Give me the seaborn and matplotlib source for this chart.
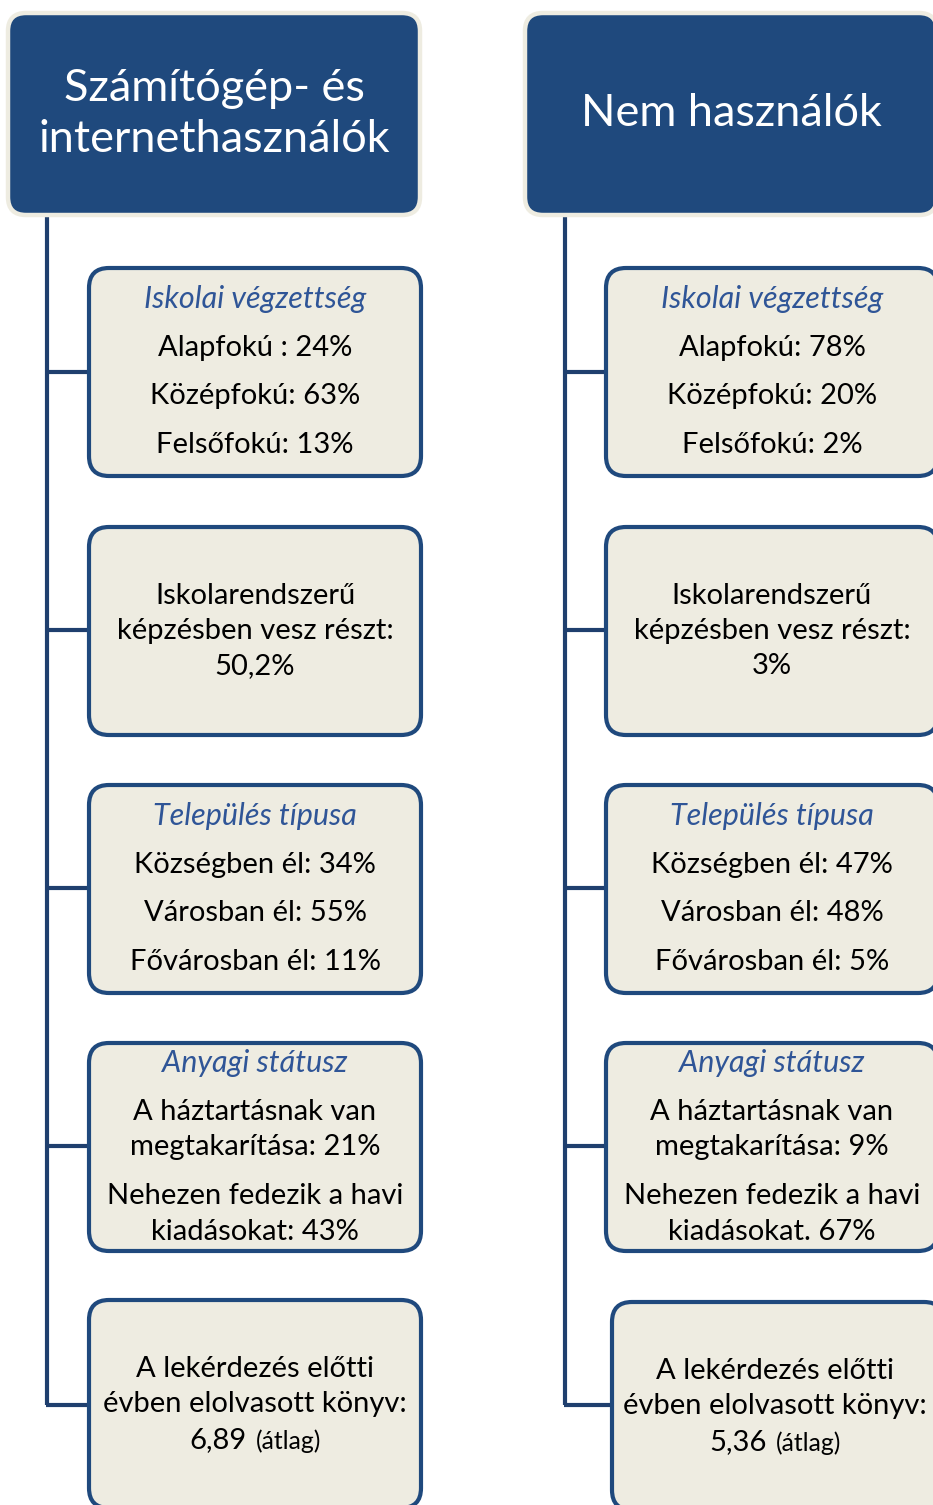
import matplotlib
matplotlib.use('Agg')
import matplotlib.pyplot as plt
import seaborn as sns
from matplotlib.patches import FancyBboxPatch

sns.set_theme(style='white')
plt.rcParams['font.family'] = ['Lato', 'DejaVu Sans']

# --- content ---
groups = ['Számítógép- és\ninternethasználók', 'Nem használók']

titles_left = ['Iskolai végzettség', None, 'Település típusa', 'Anyagi státusz', None]
titles_right = ['Iskolai végzettség', None, 'Település típusa', 'Anyagi státusz', None]

lines_left = [
    ['Alapfokú : 24%', 'Középfokú: 63%', 'Felsőfokú: 13%'],
    ['Iskolarendszerű', 'képzésben vesz részt:', '50,2%'],
    ['Községben él: 34%', 'Városban él: 55%', 'Fővárosban él: 11%'],
    ['A háztartásnak van', 'megtakarítása: 21%', 'Nehezen fedezik a havi', 'kiadásokat: 43%'],
    ['A lekérdezés előtti', 'évben elolvasott könyv:', '6,89'],
]
lines_right = [
    ['Alapfokú: 78%', 'Középfokú: 20%', 'Felsőfokú: 2%'],
    ['Iskolarendszerű', 'képzésben vesz részt:', '3%'],
    ['Községben él: 47%', 'Városban él: 48%', 'Fővárosban él: 5%'],
    ['A háztartásnak van', 'megtakarítása: 9%', 'Nehezen fedezik a havi', 'kiadásokat. 67%'],
    ['A lekérdezés előtti', 'évben elolvasott könyv:', '5,36'],
]
suffix = '(átlag)'

# --- layout (pixels) ---
NAVY = '#1F497D'
LINE = '#1F3F6E'
BEIGE = '#EEECE1'
TITLE_BLUE = '#2F5597'

fig = plt.figure(figsize=(9.33, 15.05), dpi=100)
ax = fig.add_axes([0, 0, 1, 1])
ax.set_xlim(0, 933)
ax.set_ylim(1505, 0)
ax.axis('off')

col_x = [8, 525]          # header left edges
trunk_x = [47, 565]       # vertical line x
box_x = [[89] * 5, [606] * 4 + [612]]
box_w = 332
box_tops = [[268, 527, 785, 1043, 1300], [268, 527, 785, 1043, 1302]]
box_h = 208
conn_y = [372, 630, 888, 1146, 1405]
title_y = [299, None, 816, 1063, None]
line_ys = [
    [348, 396, 445],
    [596, 631, 666],
    [865, 913, 962],
    [1112, 1147, 1196, 1232],
    [1369, 1404, 1440],
]
line_ys_right = line_ys[:4] + [[1371, 1406, 1442]]

body_fs = 21
title_fs = 22
header_fs = 32.5

pending = []

for c in range(2):
    # header
    hx = col_x[c]
    hdr = FancyBboxPatch((hx, 13), 412, 202,
                         boxstyle='round,pad=0,rounding_size=18',
                         facecolor=NAVY, edgecolor=BEIGE, linewidth=3.2, zorder=3)
    ax.add_patch(hdr)
    ax.text(hx + 206, 114, groups[c], ha='center', va='center', color='white',
            fontsize=header_fs, linespacing=1.3, zorder=4)

    # trunk line
    tx = trunk_x[c]
    ax.plot([tx, tx], [215, conn_y[-1]], color=LINE, lw=3.0, solid_capstyle='butt', zorder=1)

    titles = titles_left if c == 0 else titles_right
    lines = lines_left if c == 0 else lines_right
    ys = line_ys if c == 0 else line_ys_right

    for i in range(5):
        bx = box_x[c][i]
        by = box_tops[c][i]
        ax.plot([tx - 1.5, bx], [conn_y[i], conn_y[i]],
                color=LINE, lw=3.0, solid_capstyle='butt', zorder=1)
        box = FancyBboxPatch((bx, by), box_w, box_h,
                             boxstyle='round,pad=0,rounding_size=20',
                             facecolor=BEIGE, edgecolor=NAVY, linewidth=3.0, zorder=2)
        ax.add_patch(box)
        cx = 255 if c == 0 else 772 + (3 if i == 4 else 0)
        if titles[i]:
            ax.text(cx, title_y[i], titles[i], ha='center', va='center', color=TITLE_BLUE,
                    fontsize=title_fs, style='italic', zorder=4)
        for j, (txt, y) in enumerate(zip(lines[i], ys[i])):
            if i == 4 and j == 2:
                t1 = ax.text(cx, y, txt, ha='left', va='center', color='black',
                             fontsize=body_fs, zorder=4)
                t2 = ax.text(cx, y + 1, suffix, ha='left', va='center', color='black',
                             fontsize=body_fs * 0.85, zorder=4)
                pending.append((t1, t2, cx))
            else:
                ax.text(cx, y, txt, ha='center', va='center', color='black',
                        fontsize=body_fs, zorder=4)

# center the mixed-size "value (átlag)" lines
fig.canvas.draw()
r = fig.canvas.get_renderer()
for t1, t2, cx in pending:
    w1 = t1.get_window_extent(r).width
    w2 = t2.get_window_extent(r).width
    gap = 9
    x0 = cx - (w1 + gap + w2) / 2
    t1.set_x(x0)
    t2.set_x(x0 + w1 + gap)

fig.savefig('out.png', dpi=100, facecolor='white')
